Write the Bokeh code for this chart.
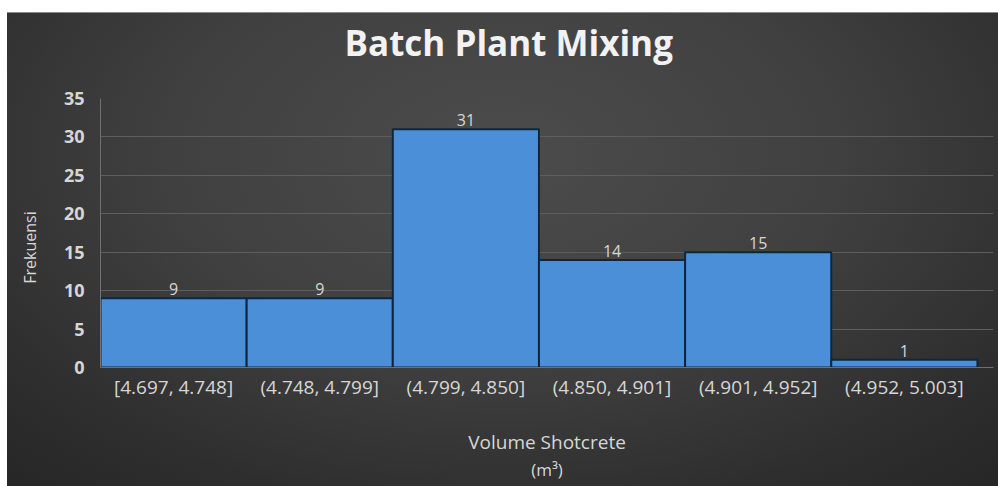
from bokeh.plotting import figure
from bokeh.models import Range1d, FixedTicker, ColumnDataSource, LabelSet, LinearAxis, Title
from bokeh.core.properties import value
from bokeh.embed import file_html
from bokeh.resources import INLINE

# Histogram classes (volume in m³) and their frequencies
bins = ["[4.697, 4.748]", "(4.748, 4.799]", "(4.799, 4.850]",
        "(4.850, 4.901]", "(4.901, 4.952]", "(4.952, 5.003]"]
counts = [9, 9, 31, 14, 15, 1]
y_ticks = [0, 5, 10, 15, 20, 25, 30, 35]

title_text = "Batch Plant Mixing"
x_title = "Volume Shotcrete"
x_unit = "(m³)"
y_title = "Frekuensi"

FONT = "Open Sans"
LABEL_COLOR = "#d6d6d6"

left = list(range(len(counts)))
right = [i + 1 for i in left]
centers = [i + 0.5 for i in left]

src = ColumnDataSource(dict(left=left, right=right, top=counts, x=centers,
                            label=[str(c) for c in counts]))

p = figure(width=991, height=474, output_backend="svg", toolbar_location=None,
           x_range=Range1d(0, 6.11), y_range=Range1d(0, 35),
           min_border_left=93, min_border_right=5, min_border_top=85,
           min_border_bottom=120, margin=(12, 0, 0, 7))

p.background_fill_color = None
p.border_fill_color = None
p.outline_line_color = None
p.styles = {"background": "radial-gradient(ellipse 75% 95% at 50% 30%, #4c4c4c 0%, #404040 45%, #2e2e2e 80%, #262626 100%)",
            "border-top": "1px solid #8a8a8a"}

p.quad(left="left", right="right", bottom=0, top="top", source=src,
       fill_color="#4a8fd8", line_color="#0e2740", line_width=2)

labels = LabelSet(x="x", y="top", text="label", source=src, text_align="center",
                  text_baseline="bottom", y_offset=3, text_color=LABEL_COLOR,
                  text_font=value(FONT), text_font_size="16px")
p.add_layout(labels)

# title, held above the frame by a thin spacer panel
spacer = Title(text=" ", text_font_size="1px", standoff=30)
p.add_layout(spacer, "above")
main_title = Title(text=title_text, align="left", offset=244, standoff=0,
                   text_font=FONT, text_font_size="35px", text_font_style="bold",
                   text_color="#f2f2f2")
p.add_layout(main_title, "above")

# x axis with class labels
p.xaxis.ticker = FixedTicker(ticks=centers)
p.xaxis.major_label_overrides = {c: b for c, b in zip(centers, bins)}
p.xaxis.major_label_text_color = LABEL_COLOR
p.xaxis.major_label_text_font = FONT
p.xaxis.major_label_text_font_size = "19px"
p.xaxis.major_label_standoff = 0
p.xaxis.major_tick_line_color = None
p.xaxis.minor_tick_line_color = None
p.xaxis.axis_line_color = "#707070"
p.xaxis.axis_line_width = 1
p.xaxis.axis_label = x_title
p.xaxis.axis_label_text_font = FONT
p.xaxis.axis_label_text_font_size = "19px"
p.xaxis.axis_label_text_font_style = "normal"
p.xaxis.axis_label_text_color = LABEL_COLOR
p.xaxis.axis_label_standoff = 26

# second line of the x title (unit)
unit_axis = LinearAxis(ticker=FixedTicker(ticks=[]), axis_line_color=None,
                       major_tick_line_color=None, minor_tick_line_color=None,
                       major_label_text_font_size="0px", axis_label=x_unit,
                       axis_label_text_font=FONT, axis_label_text_font_size="17px",
                       axis_label_text_font_style="normal",
                       axis_label_text_color=LABEL_COLOR, axis_label_standoff=0)
p.add_layout(unit_axis, "below")

p.yaxis.ticker = FixedTicker(ticks=y_ticks)
p.yaxis.major_label_text_color = LABEL_COLOR
p.yaxis.major_label_text_font = FONT
p.yaxis.major_label_text_font_size = "18px"
p.yaxis.major_label_text_font_style = "bold"
p.yaxis.major_label_standoff = 10
p.yaxis.major_tick_line_color = None
p.yaxis.minor_tick_line_color = None
p.yaxis.axis_line_color = "#707070"
# trailing no-break spaces push the rotated title down the axis
p.yaxis.axis_label = y_title + "\u00a0" * 7
p.yaxis.axis_label_text_font = FONT
p.yaxis.axis_label_text_font_size = "16px"
p.yaxis.axis_label_text_font_style = "normal"
p.yaxis.axis_label_text_color = LABEL_COLOR
p.yaxis.axis_label_standoff = 20

p.xgrid.visible = False
p.ygrid.ticker = FixedTicker(ticks=y_ticks)
p.ygrid.grid_line_color = "#5e5e5e"
p.ygrid.grid_line_width = 1

open("out.html", "w").write(file_html(p, INLINE))
